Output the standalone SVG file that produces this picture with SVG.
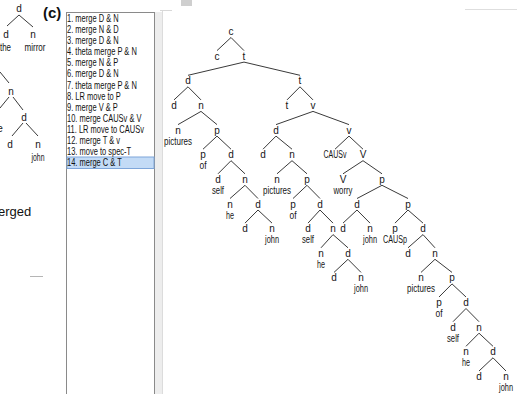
<svg xmlns="http://www.w3.org/2000/svg" width="519" height="394" viewBox="0 0 519 394">
<style>
.t{font-family:"Liberation Sans Narrow","Liberation Sans",Arial,sans-serif;font-size:10px;fill:#151515;text-anchor:middle}
.li{font-family:"Liberation Sans",Arial,sans-serif;font-size:10px;fill:#111}
.e line{stroke:#3a3a3a;stroke-width:1}
</style>
<rect width="519" height="394" fill="#fff"/>
<g id="chrome">
<rect x="155" y="12" width="7" height="382" fill="#ededed"/>
<line x1="162.5" y1="10" x2="162.5" y2="394" stroke="#dcdcdc"/>
<line x1="160" y1="10.5" x2="172" y2="10.5" stroke="#d8d8d8"/>
<rect x="181" y="0" width="11" height="6" fill="#cfcfcf"/>
<line x1="465" y1="9.5" x2="517" y2="9.5" stroke="#dedede"/>
<line x1="30" y1="276.5" x2="43" y2="276.5" stroke="#b5b5b5"/>
</g>
<g id="left-tree">
<g class="e">
<line x1="19" y1="15" x2="7" y2="26"/>
<line x1="19" y1="15" x2="33" y2="27"/>
<line x1="0" y1="72" x2="9" y2="83"/>
<line x1="9" y1="97" x2="0" y2="108"/>
<line x1="13" y1="97" x2="23" y2="110"/>
<line x1="23" y1="123" x2="12" y2="136"/>
<line x1="26" y1="123" x2="38" y2="136"/>
</g>
<text class="t" x="19" y="12">d</text>
<text class="t" x="6" y="38">d</text>
<text class="t" x="33" y="38">n</text>
<text class="t" x="5.5" y="51" textLength="11" lengthAdjust="spacingAndGlyphs">the</text>
<text class="t" x="35" y="51" textLength="21" lengthAdjust="spacingAndGlyphs">mirror</text>
<text class="t" x="11" y="95">n</text>
<text class="t" x="24" y="121">d</text>
<text class="t" x="10" y="148">d</text>
<text class="t" x="38" y="148">n</text>
<text class="t" x="38" y="161" textLength="13" lengthAdjust="spacingAndGlyphs">john</text>
<text class="t" x="0" y="132">e</text>
</g>
<text id="label-c" x="43" y="18" font-family="Liberation Sans,Arial,sans-serif" font-size="15" font-weight="bold" fill="#111">(c)</text>
<text id="erged" x="-2" y="216" font-family="Liberation Sans,Arial,sans-serif" font-size="13" fill="#111">erged</text>
<g id="list">
<rect x="66.5" y="12.5" width="88" height="400" fill="#fff" stroke="#8a8a8a"/>
<rect x="67" y="157" width="87" height="11.5" fill="#c3dbf6" stroke="#7ea6da"/>
<g transform="translate(67 0) scale(0.75 1)">
<text class="li" x="0" y="22">1. merge D &amp; N</text>
<text class="li" x="0" y="33.1">2. merge N &amp; D</text>
<text class="li" x="0" y="44.2">3. merge D &amp; N</text>
<text class="li" x="0" y="55.3">4. theta merge P &amp; N</text>
<text class="li" x="0" y="66.4">5. merge N &amp; P</text>
<text class="li" x="0" y="77.5">6. merge D &amp; N</text>
<text class="li" x="0" y="88.6">7. theta merge P &amp; N</text>
<text class="li" x="0" y="99.7">8. LR move to P</text>
<text class="li" x="0" y="110.8">9. merge V &amp; P</text>
<text class="li" x="0" y="121.9">10. merge CAUSv &amp; V</text>
<text class="li" x="0" y="133">11. LR move to CAUSv</text>
<text class="li" x="0" y="144.1">12. merge T &amp; v</text>
<text class="li" x="0" y="155.2">13. move to spec-T</text>
<text class="li" x="0" y="166.3">14. merge C &amp; T</text>
</g>
</g>
<g id="connectors" class="e">
<line x1="231" y1="37.5" x2="217" y2="50.6"/><line x1="231" y1="37.5" x2="244" y2="50.6"/>
<line x1="244" y1="62.1" x2="188" y2="75.3"/><line x1="244" y1="62.1" x2="300" y2="75.3"/>
<line x1="188" y1="86.8" x2="174" y2="99.9"/><line x1="188" y1="86.8" x2="201" y2="99.9"/>
<line x1="201" y1="111.4" x2="178" y2="124.6"/><line x1="201" y1="111.4" x2="217" y2="124.6"/>
<line x1="217" y1="136.1" x2="203" y2="149.2"/><line x1="217" y1="136.1" x2="231" y2="149.2"/>
<line x1="231" y1="160.7" x2="218" y2="173.8"/><line x1="231" y1="160.7" x2="245" y2="173.8"/>
<line x1="245" y1="185.3" x2="230" y2="198.5"/><line x1="245" y1="185.3" x2="258" y2="198.5"/>
<line x1="258" y1="210" x2="245" y2="223.1"/><line x1="258" y1="210" x2="272" y2="223.1"/>
<line x1="300" y1="86.8" x2="287" y2="99.9"/><line x1="300" y1="86.8" x2="313" y2="99.9"/>
<line x1="313" y1="111.4" x2="276" y2="124.6"/><line x1="313" y1="111.4" x2="349" y2="124.6"/>
<line x1="276" y1="136.1" x2="263" y2="149.2"/><line x1="276" y1="136.1" x2="292" y2="149.2"/>
<line x1="292" y1="160.7" x2="277" y2="173.8"/><line x1="292" y1="160.7" x2="307" y2="173.8"/>
<line x1="307" y1="185.3" x2="293" y2="198.5"/><line x1="307" y1="185.3" x2="320" y2="198.5"/>
<line x1="320" y1="210" x2="308" y2="223.1"/><line x1="320" y1="210" x2="333" y2="223.1"/>
<line x1="333" y1="234.6" x2="321" y2="247.8"/><line x1="333" y1="234.6" x2="348" y2="247.8"/>
<line x1="348" y1="259.3" x2="334" y2="272.4"/><line x1="348" y1="259.3" x2="361" y2="272.4"/>
<line x1="349" y1="136.1" x2="335" y2="149.2"/><line x1="349" y1="136.1" x2="363" y2="149.2"/>
<line x1="363" y1="160.7" x2="343" y2="173.8"/><line x1="363" y1="160.7" x2="382" y2="173.8"/>
<line x1="382" y1="185.3" x2="357" y2="198.5"/><line x1="382" y1="185.3" x2="408" y2="198.5"/>
<line x1="357" y1="210" x2="343" y2="223.1"/><line x1="357" y1="210" x2="370" y2="223.1"/>
<line x1="408" y1="210" x2="395" y2="223.1"/><line x1="408" y1="210" x2="423" y2="223.1"/>
<line x1="423" y1="234.6" x2="408" y2="247.8"/><line x1="423" y1="234.6" x2="435" y2="247.8"/>
<line x1="435" y1="259.3" x2="421" y2="272.4"/><line x1="435" y1="259.3" x2="452" y2="272.4"/>
<line x1="452" y1="283.9" x2="439" y2="297"/><line x1="452" y1="283.9" x2="466" y2="297"/>
<line x1="466" y1="308.5" x2="453" y2="321.7"/><line x1="466" y1="308.5" x2="479" y2="321.7"/>
<line x1="479" y1="333.2" x2="466" y2="346.3"/><line x1="479" y1="333.2" x2="493" y2="346.3"/>
<line x1="493" y1="357.8" x2="479" y2="371"/><line x1="493" y1="357.8" x2="506" y2="371"/>
</g>
<g id="tree">
<g id="n-root"><text class="t" x="231" y="35">c</text></g>
<g id="n-c"><text class="t" x="217" y="59.6">c</text></g>
<g id="n-t1"><text class="t" x="244" y="59.6">t</text></g>
<g id="n-d2"><text class="t" x="188" y="84.3">d</text></g>
<g id="n-d3"><text class="t" x="174" y="108.9">d</text></g>
<g id="n-n3"><text class="t" x="201" y="108.9">n</text></g>
<g id="n-n4"><text class="t" x="178" y="133.6">n</text><text class="t" x="178" y="144.6" textLength="28" lengthAdjust="spacingAndGlyphs">pictures</text></g>
<g id="n-p4"><text class="t" x="217" y="133.6">p</text></g>
<g id="n-p5"><text class="t" x="203" y="158.2">p</text><text class="t" x="203" y="169.2" textLength="7" lengthAdjust="spacingAndGlyphs">of</text></g>
<g id="n-d5"><text class="t" x="231" y="158.2">d</text></g>
<g id="n-d6"><text class="t" x="218" y="182.8">d</text><text class="t" x="218" y="193.8" textLength="12" lengthAdjust="spacingAndGlyphs">self</text></g>
<g id="n-n6"><text class="t" x="245" y="182.8">n</text></g>
<g id="n-n7"><text class="t" x="230" y="207.5">n</text><text class="t" x="230" y="218.5" textLength="8" lengthAdjust="spacingAndGlyphs">he</text></g>
<g id="n-d7"><text class="t" x="258" y="207.5">d</text></g>
<g id="n-d8"><text class="t" x="245" y="232.1">d</text></g>
<g id="n-n8"><text class="t" x="272" y="232.1">n</text><text class="t" x="272" y="243.1" textLength="14" lengthAdjust="spacingAndGlyphs">john</text></g>
<g id="n-t2"><text class="t" x="300" y="84.3">t</text></g>
<g id="n-t3"><text class="t" x="287" y="108.9">t</text></g>
<g id="n-v3"><text class="t" x="313" y="108.9">v</text></g>
<g id="m-d4"><text class="t" x="276" y="133.6">d</text></g>
<g id="m-d5"><text class="t" x="263" y="158.2">d</text></g>
<g id="m-n5"><text class="t" x="292" y="158.2">n</text></g>
<g id="m-n6"><text class="t" x="277" y="182.8">n</text><text class="t" x="277" y="193.8" textLength="28" lengthAdjust="spacingAndGlyphs">pictures</text></g>
<g id="m-p6"><text class="t" x="307" y="182.8">p</text></g>
<g id="m-p7"><text class="t" x="293" y="207.5">p</text><text class="t" x="293" y="218.5" textLength="7" lengthAdjust="spacingAndGlyphs">of</text></g>
<g id="m-d7"><text class="t" x="320" y="207.5">d</text></g>
<g id="m-d8"><text class="t" x="308" y="232.1">d</text><text class="t" x="308" y="243.1" textLength="12" lengthAdjust="spacingAndGlyphs">self</text></g>
<g id="m-n8"><text class="t" x="333" y="232.1">n</text></g>
<g id="m-n9"><text class="t" x="321" y="256.8">n</text><text class="t" x="321" y="267.8" textLength="8" lengthAdjust="spacingAndGlyphs">he</text></g>
<g id="m-d9"><text class="t" x="348" y="256.8">d</text></g>
<g id="m-d10"><text class="t" x="334" y="281.4">d</text></g>
<g id="m-n10"><text class="t" x="361" y="281.4">n</text><text class="t" x="361" y="292.4" textLength="14" lengthAdjust="spacingAndGlyphs">john</text></g>
<g id="r-v4"><text class="t" x="349" y="133.6">v</text></g>
<g id="r-causv"><text class="t" x="335" y="158.2" textLength="23" lengthAdjust="spacingAndGlyphs">CAUSv</text></g>
<g id="r-V5"><text class="t" x="363" y="158.2">V</text></g>
<g id="r-V6"><text class="t" x="343" y="182.8">V</text><text class="t" x="343" y="193.8" textLength="19" lengthAdjust="spacingAndGlyphs">worry</text></g>
<g id="r-p6"><text class="t" x="382" y="182.8">p</text></g>
<g id="r-d7"><text class="t" x="357" y="207.5">d</text></g>
<g id="r-p7"><text class="t" x="408" y="207.5">p</text></g>
<g id="r-d8"><text class="t" x="343" y="232.1">d</text></g>
<g id="r-n8"><text class="t" x="370" y="232.1">n</text><text class="t" x="370" y="243.1" textLength="14" lengthAdjust="spacingAndGlyphs">john</text></g>
<g id="r-p8"><text class="t" x="395" y="232.1">p</text><text class="t" x="395" y="243.1" textLength="24" lengthAdjust="spacingAndGlyphs">CAUSp</text></g>
<g id="r-d8b"><text class="t" x="423" y="232.1">d</text></g>
<g id="r-d9"><text class="t" x="408" y="256.8">d</text></g>
<g id="r-n9"><text class="t" x="435" y="256.8">n</text></g>
<g id="r-n10"><text class="t" x="421" y="281.4">n</text><text class="t" x="421" y="292.4" textLength="28" lengthAdjust="spacingAndGlyphs">pictures</text></g>
<g id="r-p10"><text class="t" x="452" y="281.4">p</text></g>
<g id="r-p11"><text class="t" x="439" y="306">p</text><text class="t" x="439" y="317" textLength="7" lengthAdjust="spacingAndGlyphs">of</text></g>
<g id="r-d11"><text class="t" x="466" y="306">d</text></g>
<g id="r-d12"><text class="t" x="453" y="330.7">d</text><text class="t" x="453" y="341.7" textLength="12" lengthAdjust="spacingAndGlyphs">self</text></g>
<g id="r-n12"><text class="t" x="479" y="330.7">n</text></g>
<g id="r-n13"><text class="t" x="466" y="355.3">n</text><text class="t" x="466" y="366.3" textLength="8" lengthAdjust="spacingAndGlyphs">he</text></g>
<g id="r-d13"><text class="t" x="493" y="355.3">d</text></g>
<g id="r-d14"><text class="t" x="479" y="380">d</text></g>
<g id="r-n14"><text class="t" x="506" y="380">n</text><text class="t" x="506" y="391" textLength="14" lengthAdjust="spacingAndGlyphs">john</text></g>
</g>
</svg>
